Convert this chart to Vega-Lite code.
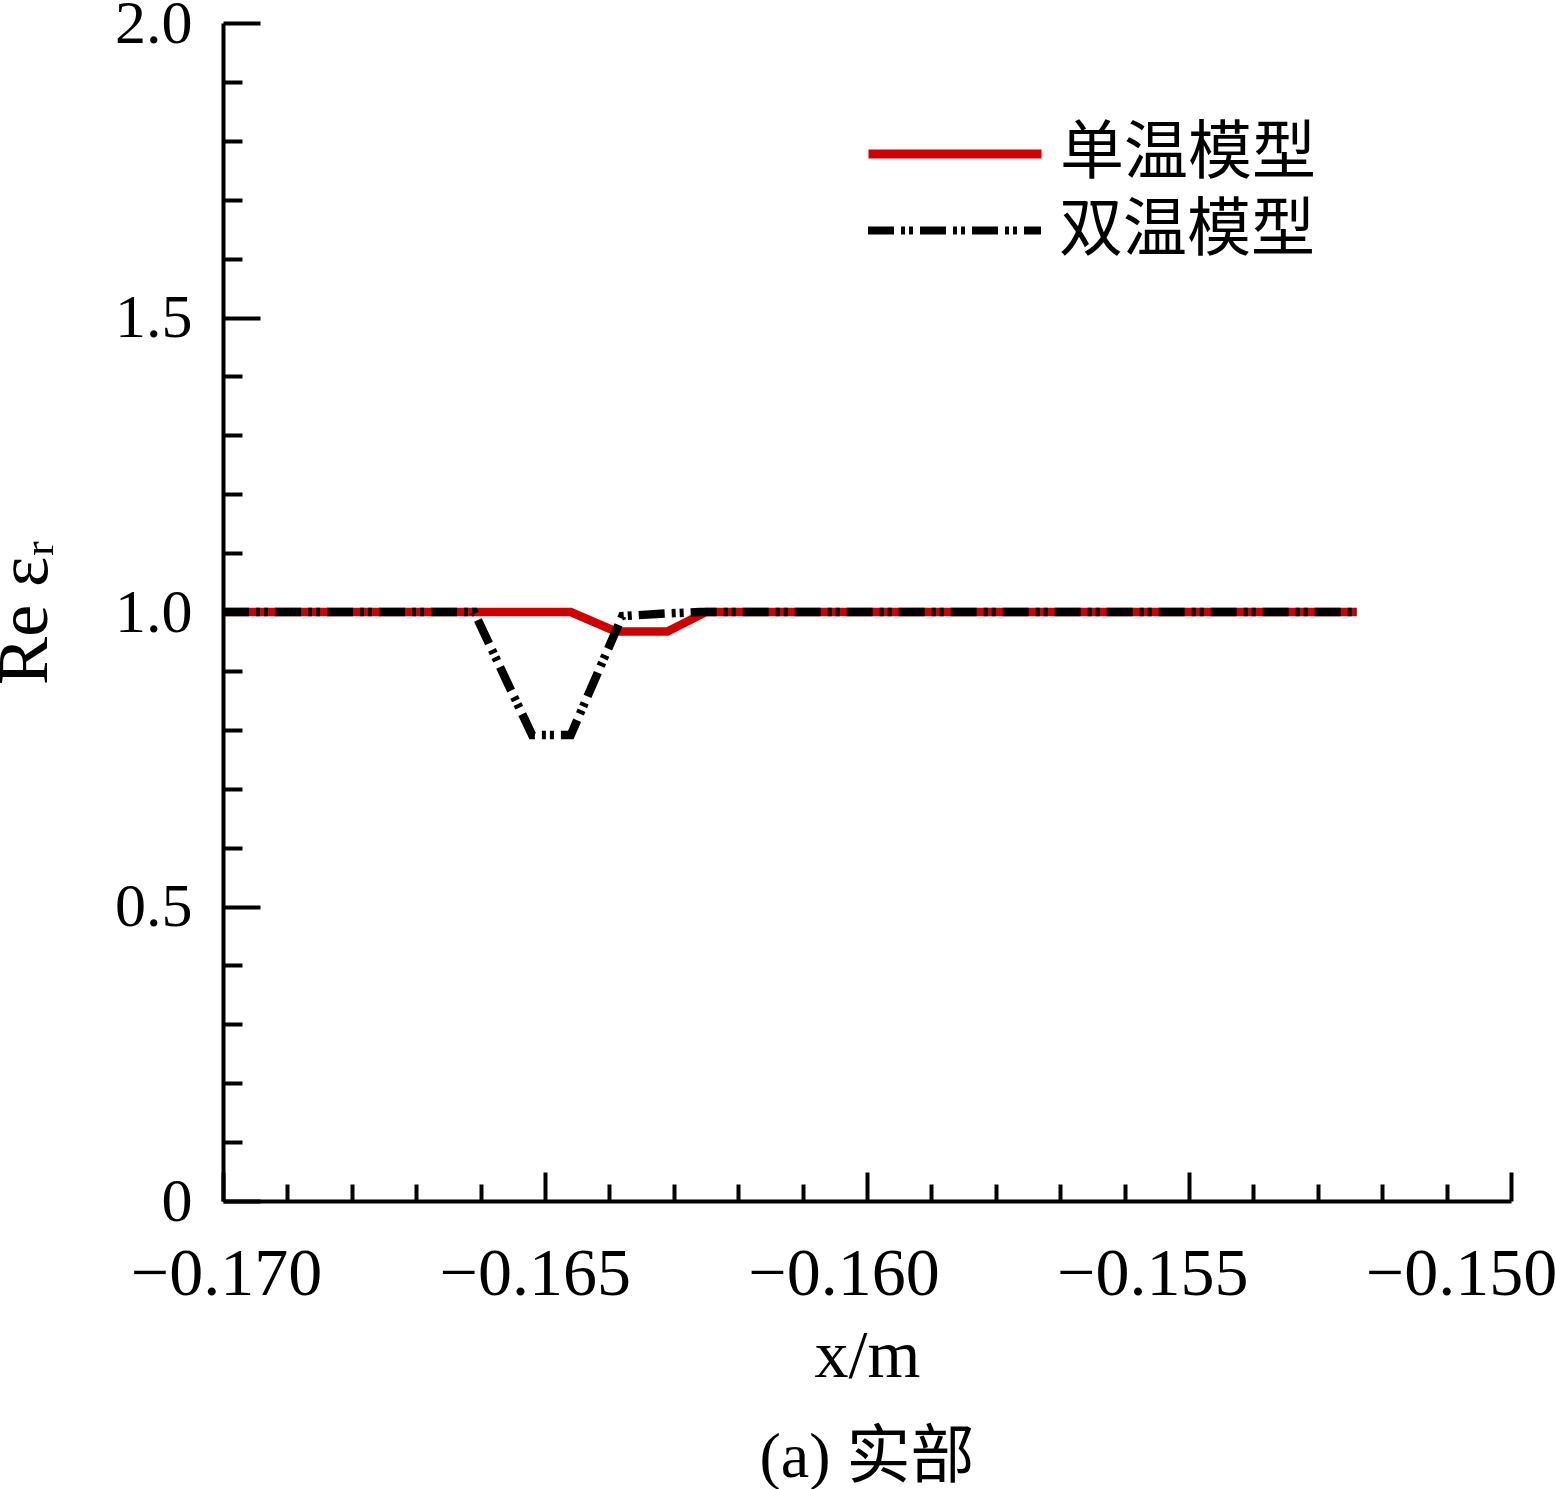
{
  "$schema": "https://vega.github.io/schema/vega-lite/v6.json",
  "width": 1288,
  "height": 1178,
  "autosize": {"type": "none"},
  "padding": {"left": 223, "top": 23, "right": 44, "bottom": 288},
  "background": "white",
  "title": {
    "text": "(a) 实部",
    "orient": "bottom",
    "anchor": "middle",
    "font": "Liberation Serif, Noto Sans CJK SC",
    "fontSize": 64,
    "fontWeight": "normal",
    "color": "black",
    "offset": 36
  },
  "data": {
    "values": [
      {"x": -0.1700, "y": 1.000, "model": "单温模型"},
      {"x": -0.1646, "y": 1.000, "model": "单温模型"},
      {"x": -0.1639, "y": 0.967, "model": "单温模型"},
      {"x": -0.1631, "y": 0.967, "model": "单温模型"},
      {"x": -0.1625, "y": 1.000, "model": "单温模型"},
      {"x": -0.1524, "y": 1.000, "model": "单温模型"},
      {"x": -0.1700, "y": 1.000, "model": "双温模型"},
      {"x": -0.1661, "y": 1.000, "model": "双温模型"},
      {"x": -0.1652, "y": 0.791, "model": "双温模型"},
      {"x": -0.1646, "y": 0.791, "model": "双温模型"},
      {"x": -0.1638, "y": 0.993, "model": "双温模型"},
      {"x": -0.1632, "y": 0.997, "model": "双温模型"},
      {"x": -0.1626, "y": 1.000, "model": "双温模型"},
      {"x": -0.1524, "y": 1.000, "model": "双温模型"}
    ]
  },
  "encoding": {
    "x": {
      "field": "x",
      "type": "quantitative",
      "scale": {"domain": [-0.17, -0.15], "nice": false, "zero": false},
      "axis": {
        "title": "x/m",
        "values": [-0.17, -0.169, -0.168, -0.167, -0.166, -0.165, -0.164, -0.163, -0.162, -0.161, -0.16, -0.159, -0.158, -0.157, -0.156, -0.155, -0.154, -0.153, -0.152, -0.151, -0.15],
        "format": ".3f",
        "labelExpr": "round(datum.value * 1000) % 5 == 0 ? datum.label : ''",
        "tickSize": {"condition": {"test": "round(datum.value * 1000) % 5 == 0", "value": -29}, "value": -17},
        "labelOffset": {"expr": "3 - 2650 * (datum.value + 0.17)"},
        "labelPadding": 68,
        "labelFontSize": 68,
        "labelLimit": 400,
        "labelOverlap": false,
        "labelFlush": false,
        "titleFontSize": 68,
        "titlePadding": 2
      }
    },
    "y": {
      "field": "y",
      "type": "quantitative",
      "scale": {"domain": [0, 2], "nice": false},
      "axis": {
        "title": "Re εᵣ",
        "values": [0, 0.1, 0.2, 0.3, 0.4, 0.5, 0.6, 0.7, 0.8, 0.9, 1, 1.1, 1.2, 1.3, 1.4, 1.5, 1.6, 1.7, 1.8, 1.9, 2],
        "labelExpr": "round(datum.value * 10) % 5 == 0 ? (datum.value == 0 ? '0' : format(datum.value, '.1f')) : ''",
        "tickSize": {"condition": {"test": "round(datum.value * 10) % 5 == 0", "value": -37}, "value": -19},
        "labelPadding": 68,
        "labelFontSize": 62,
        "labelLimit": 400,
        "labelOverlap": false,
        "labelFlush": false,
        "titleFontSize": 72,
        "titlePadding": 53
      }
    }
  },
  "layer": [
    {
      "transform": [{"filter": "datum.model == '单温模型'"}],
      "mark": {"type": "line", "strokeWidth": 8.5, "strokeCap": "butt", "clip": false},
      "encoding": {
        "color": {
          "field": "model",
          "type": "nominal",
          "scale": {"domain": ["单温模型"], "range": ["#d10000"]},
          "legend": {
            "title": null,
            "orient": "none",
            "legendX": 641,
            "legendY": 40,
            "padding": 0,
            "symbolType": "stroke",
            "symbolSize": 29929,
            "symbolStrokeWidth": 9,
            "labelFont": "Liberation Serif, Noto Sans CJK SC",
            "labelFontSize": 64,
            "labelColor": "black",
            "labelOffset": 14,
            "labelLimit": 400
          }
        }
      }
    },
    {
      "transform": [{"filter": "datum.model == '双温模型'"}],
      "mark": {"type": "line", "strokeWidth": 8.5, "strokeCap": "butt", "clip": false, "color": "black"},
      "encoding": {
        "strokeDash": {
          "field": "model",
          "type": "nominal",
          "scale": {"domain": ["双温模型"], "range": [[26, 7, 4, 4, 4, 7]]},
          "legend": {
            "title": null,
            "orient": "none",
            "legendX": 641,
            "legendY": 117,
            "padding": 0,
            "symbolType": "stroke",
            "symbolSize": 29929,
            "symbolStrokeWidth": 8,
            "symbolStrokeColor": "black",
            "labelFont": "Liberation Serif, Noto Sans CJK SC",
            "labelFontSize": 64,
            "labelColor": "black",
            "labelOffset": 14,
            "labelLimit": 400
          }
        }
      }
    }
  ],
  "config": {
    "view": {"stroke": null},
    "font": "Liberation Serif, Noto Sans CJK SC",
    "axis": {
      "grid": false,
      "domainColor": "black",
      "domainWidth": 4,
      "tickColor": "black",
      "tickWidth": 4,
      "labelColor": "black",
      "titleColor": "black",
      "labelFont": "Liberation Serif",
      "titleFont": "Liberation Serif, DejaVu Serif",
      "titleFontWeight": "normal"
    }
  }
}
